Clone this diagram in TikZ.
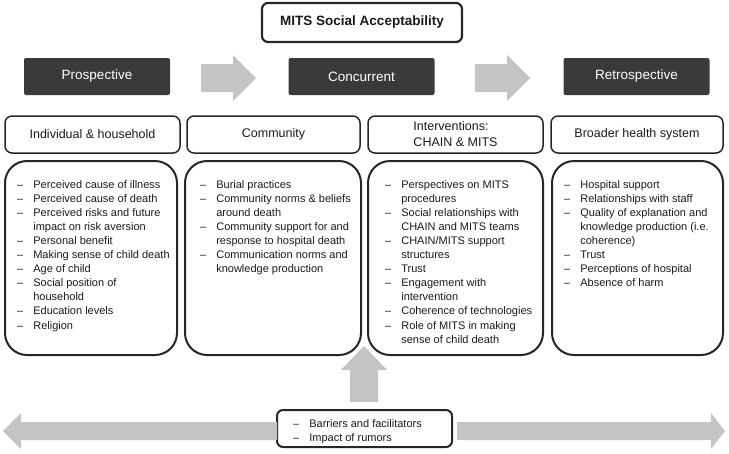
\documentclass[tikz,border=0pt]{standalone}
\usepackage{fontspec}
\setmainfont{Liberation Sans}
\definecolor{darkbox}{HTML}{3A3A3A}
\definecolor{arrowgray}{HTML}{C4C4C4}
\definecolor{edge}{HTML}{262626}
\definecolor{ink}{HTML}{1A1A1A}
\begin{document}
\begin{tikzpicture}[x=1pt,y=-1pt,
  titlebox/.style={draw=edge, line width=2.2pt, rounded corners=6pt, minimum width=200pt, minimum height=39pt, inner sep=0pt, text=ink, font=\fontsize{13.5}{16}\selectfont\bfseries},
  phasebox/.style={fill=darkbox, rounded corners=2pt, minimum width=146pt, minimum height=37pt, inner sep=0pt, text=white, font=\fontsize{13.5}{16}\selectfont},
  levelbox/.style={draw=edge, line width=1.5pt, rounded corners=7pt, minimum height=37pt, inner sep=0pt, text=ink, align=left, font=\fontsize{12.5}{16}\selectfont},
  contentbox/.style={draw=edge, line width=2pt, rounded corners=22pt, minimum height=194pt, inner sep=0pt},
  listtext/.style={anchor=north west, inner sep=0pt, text=ink, align=left, font=\fontsize{11}{14.1}\selectfont},
  barbox/.style={draw=edge, line width=2pt, rounded corners=6pt, minimum width=175pt, minimum height=37pt, inner sep=0pt},
  blockarrow/.style={fill=arrowgray}
]
\useasboundingbox (0,0) rectangle (729,453);

% title
\node[titlebox] (title) at (362,22.5) {MITS Social Acceptability};

% phases
\node[phasebox] (pro) at (97,76.5) {Prospective};
\node[phasebox] (con) at (361.5,76.5) {Concurrent};
\node[phasebox] (ret) at (636.5,76.5) {Retrospective};

% phase arrows
\fill[blockarrow] (201,64) -- (233,64) -- (233,55) -- (256,78) -- (233,101) -- (233,92) -- (201,92) -- cycle;
\fill[blockarrow] (475,64) -- (507,64) -- (507,55) -- (530,78) -- (507,101) -- (507,92) -- (475,92) -- cycle;

% level headers
\node[levelbox, minimum width=175pt] (h1) at (92.5,134.5) {Individual \& household};
\node[levelbox, minimum width=173pt] (h2) at (273.5,134.5) {Community};
\node[levelbox, minimum width=175pt] (h3) at (455.5,134.5) {Interventions:\\CHAIN \& MITS};
\node[levelbox, minimum width=172pt] (h4) at (637,134.5) {Broader health system};

% content boxes
\node[contentbox, minimum width=172pt] (c1) at (91,258) {};
\node[contentbox, minimum width=176pt] (c2) at (273,258) {};
\node[contentbox, minimum width=175pt] (c3) at (455.5,258) {};
\node[contentbox, minimum width=171pt] (c4) at (637.5,258) {};

\node[listtext] (l1) at (17,178) {\begin{tabular}{@{}l@{\hspace{10pt}}l@{}}
– & Perceived cause of illness\\
– & Perceived cause of death\\
– & Perceived risks and future\\
  & impact on risk aversion\\
– & Personal benefit\\
– & Making sense of child death\\
– & Age of child\\
– & Social position of\\
  & household\\
– & Education levels\\
– & Religion
\end{tabular}};

\node[listtext] (l2) at (200,178) {\begin{tabular}{@{}l@{\hspace{10pt}}l@{}}
– & Burial practices\\
– & Community norms \& beliefs\\
  & around death\\
– & Community support for and\\
  & response to hospital death\\
– & Communication norms and\\
  & knowledge production
\end{tabular}};

\node[listtext] (l3) at (385,178) {\begin{tabular}{@{}l@{\hspace{10pt}}l@{}}
– & Perspectives on MITS\\
  & procedures\\
– & Social relationships with\\
  & CHAIN and MITS teams\\
– & CHAIN/MITS support\\
  & structures\\
– & Trust\\
– & Engagement with\\
  & intervention\\
– & Coherence of technologies\\
– & Role of MITS in making\\
  & sense of child death
\end{tabular}};

\node[listtext] (l4) at (564,178) {\begin{tabular}{@{}l@{\hspace{10pt}}l@{}}
– & Hospital support\\
– & Relationships with staff\\
– & Quality of explanation and\\
  & knowledge production (i.e.\\
  & coherence)\\
– & Trust\\
– & Perceptions of hospital\\
– & Absence of harm
\end{tabular}};

% barriers box
\node[barbox] (bar) at (364.5,428.5) {};
\node[listtext, font=\fontsize{11}{14.3}\selectfont] (bl) at (293,417) {\begin{tabular}{@{}l@{\hspace{10pt}}l@{}}
– & Barriers and facilitators\\
– & Impact of rumors
\end{tabular}};

% up arrow
\fill[blockarrow] (350,402) -- (350,370) -- (341,370) -- (364,346) -- (387,370) -- (378,370) -- (378,402) -- cycle;

% horizontal arrows
\fill[blockarrow] (277,422) -- (21,422) -- (21,413) -- (3,431) -- (21,449) -- (21,440) -- (277,440) -- cycle;
\fill[blockarrow] (457,422) -- (711,422) -- (711,413) -- (725,431) -- (711,449) -- (711,440) -- (457,440) -- cycle;
\end{tikzpicture}
\end{document}
